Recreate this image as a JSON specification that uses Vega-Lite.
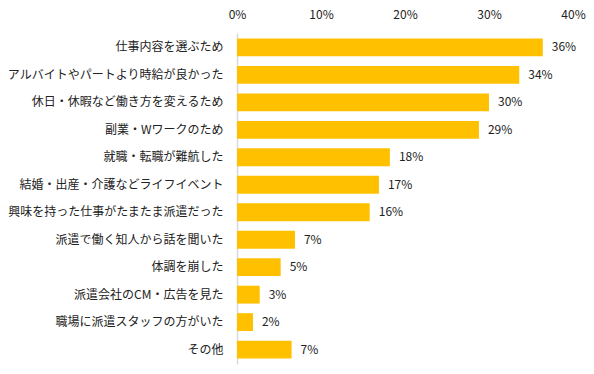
{
  "$schema": "https://vega.github.io/schema/vega-lite/v6.json",
  "width": 336,
  "height": 331,
  "autosize": {"type": "none"},
  "padding": {"left": 237, "top": 33, "right": 21, "bottom": 10},
  "background": "white",
  "config": {"view": {"stroke": null}, "font": "Noto Sans CJK JP"},
  "data": {"values": [
    {"item": "仕事内容を選ぶため", "value": 36.4, "label": "36%"},
    {"item": "アルバイトやパートより時給が良かった", "value": 33.6, "label": "34%"},
    {"item": "休日・休暇など働き方を変えるため", "value": 30.0, "label": "30%"},
    {"item": "副業・Wワークのため", "value": 28.8, "label": "29%"},
    {"item": "就職・転職が難航した", "value": 18.2, "label": "18%"},
    {"item": "結婚・出産・介護などライフイベント", "value": 16.9, "label": "17%"},
    {"item": "興味を持った仕事がたまたま派遣だった", "value": 15.8, "label": "16%"},
    {"item": "派遣で働く知人から話を聞いた", "value": 6.9, "label": "7%"},
    {"item": "体調を崩した", "value": 5.2, "label": "5%"},
    {"item": "派遣会社のCM・広告を見た", "value": 2.7, "label": "3%"},
    {"item": "職場に派遣スタッフの方がいた", "value": 1.9, "label": "2%"},
    {"item": "その他", "value": 6.5, "label": "7%"}
  ]},
  "encoding": {
    "y": {
      "field": "item", "type": "nominal", "sort": null, "title": null,
      "scale": {"paddingInner": 0.35, "paddingOuter": 0.2},
      "axis": {"ticks": false, "domain": true, "domainColor": "#d9d9d9", "domainWidth": 1.5, "labelFontSize": 12, "labelColor": "#222222", "labelPadding": 14, "labelLimit": 300}
    },
    "x": {
      "field": "value", "type": "quantitative", "title": null,
      "scale": {"domain": [0, 40], "nice": false},
      "axis": {"orient": "top", "values": [0, 10, 20, 30, 40], "labelExpr": "datum.value + '%'", "ticks": false, "domain": false, "grid": false, "labelFontSize": 12, "labelColor": "#222222", "labelPadding": 12, "labelFlush": false}
    }
  },
  "layer": [
    {"mark": {"type": "bar", "color": "#FFC000"}},
    {"mark": {"type": "text", "align": "left", "dx": 9, "fontSize": 12, "color": "#222222"}, "encoding": {"text": {"field": "label"}}}
  ]
}
